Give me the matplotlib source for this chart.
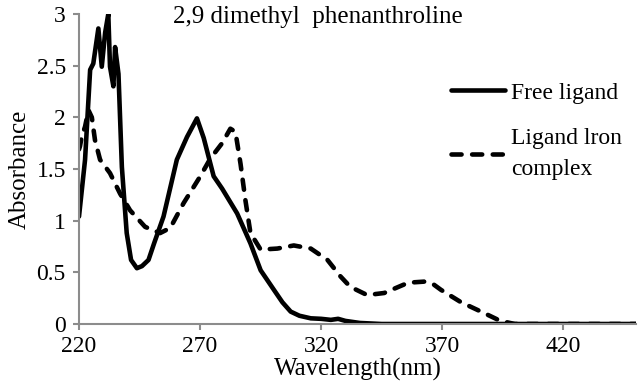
import matplotlib
matplotlib.use("Agg")
import matplotlib.pyplot as plt

# Free ligand (solid)
free_x = [220, 222.5, 224.6, 225.9, 228, 229.4, 230.8, 232.1, 232.8, 234.2, 234.9, 236.3,
          237.7, 239.7, 241.5, 243.9, 246, 248.7, 251, 254.9, 257.5, 260.4, 264.6, 268.7,
          271.5, 275.6, 279.1, 285.3, 290.8, 295, 300.5, 304, 307.4, 311, 315.7, 320, 324,
          327, 330, 336, 345, 360, 400, 450]
free_y = [1.04, 1.59, 2.46, 2.52, 2.86, 2.49, 2.82, 3.0, 2.49, 2.30, 2.68, 2.42,
          1.52, 0.88, 0.62, 0.54, 0.56, 0.62, 0.78, 1.04, 1.30, 1.59, 1.81, 1.99,
          1.80, 1.43, 1.31, 1.07, 0.78, 0.52, 0.33, 0.21, 0.12, 0.08, 0.055, 0.05, 0.04,
          0.05, 0.03, 0.01, 0.0, 0.0, 0.0, 0.0]

# Ligand iron complex (dashed)
cplx_x = [220, 220.4, 221.1, 222.5, 223.9, 225.3, 226.6, 228.7, 232.8, 237, 241.1, 247.3,
          253.5, 257.7, 263.2, 270.1, 274.2, 279.1, 282.5, 284.6, 286.7, 288.7, 290.8, 295,
          301.9, 308.7, 315.7, 322.6, 328, 332, 339, 346, 351, 356, 362.5, 366, 369.5,
          377.8, 386, 394, 400, 450]
cplx_y = [1.69, 1.72, 1.81, 1.91, 2.07, 2.0, 1.78, 1.59, 1.46, 1.26, 1.10, 0.94,
          0.88, 0.93, 1.17, 1.43, 1.60, 1.75, 1.89, 1.86, 1.55, 1.20, 0.88, 0.72,
          0.73, 0.76, 0.73, 0.62, 0.46, 0.36, 0.28, 0.30, 0.35, 0.40, 0.41, 0.39, 0.33,
          0.21, 0.12, 0.03, 0.0, 0.0]

x_ticks = [220, 270, 320, 370, 420]
y_ticks = [0, 0.5, 1, 1.5, 2, 2.5, 3]
y_ticklabels = ["0", "0.5", "1", "1.5", "2", "2.5", "3"]

plt.rcParams['font.family'] = ['Liberation Serif', 'DejaVu Serif']

fig = plt.figure(figsize=(6.4, 3.85), dpi=100)
ax = fig.add_axes([79/640, 1-324/385, (636-79)/640, (324-14)/385])

ax.plot(free_x, free_y, color='black', lw=3.3, solid_joinstyle='round',
        solid_capstyle='round', label='Free ligand')
ax.plot(cplx_x, cplx_y, color='black', lw=3.3, linestyle=(0, (2.2, 2.3)),
        dash_capstyle='round', dash_joinstyle='round', label='Ligand lron\ncomplex')

ax.set_xlim(220, 450)
ax.set_ylim(0, 3)
ax.set_xticks(x_ticks)
ax.set_yticks(y_ticks)
ax.set_yticklabels(y_ticklabels)
for s in ['top', 'right']:
    ax.spines[s].set_visible(False)
for s in ['left', 'bottom']:
    ax.spines[s].set_color('#8c8c8c')
    ax.spines[s].set_linewidth(1.5)
ax.tick_params(axis='both', colors='#8c8c8c', labelcolor='black', labelsize=17, width=1.5, length=4.5)
ax.tick_params(axis='x', pad=4)
ax.tick_params(axis='y', pad=5)

ax.set_xlabel('Wavelength(nm)', fontsize=18, labelpad=1)
ax.set_ylabel('Absorbance', fontsize=18, labelpad=4)

fig.text(173/640, 1-17/385, '2,9 dimethyl  phenanthroline', fontsize=18, va='center', ha='left')

leg = ax.legend(loc='upper left', frameon=False, fontsize=17, handlelength=2.3,
                handletextpad=0.25, labelspacing=1.05, borderpad=0, borderaxespad=0)
leg.get_texts()[1].set_linespacing(1.6)
leg.set_bbox_to_anchor((451/640, 1-82/385), transform=fig.transFigure)

fig.savefig('out.png', dpi=100)
